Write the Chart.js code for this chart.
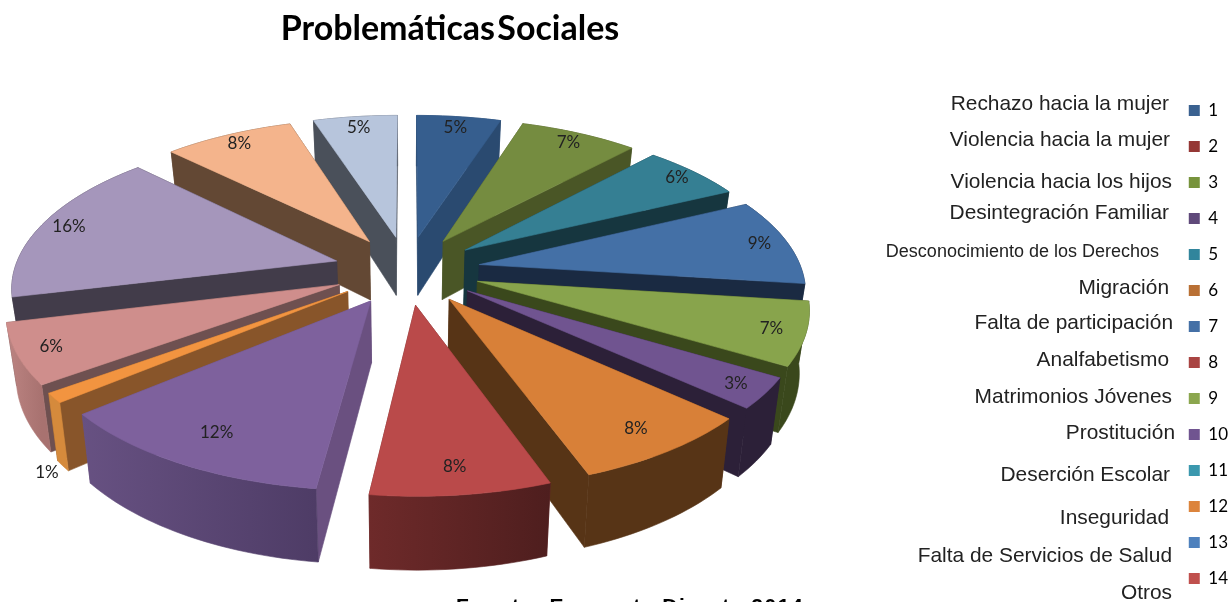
<!DOCTYPE html>
<html lang="es">
<head>
<meta charset="utf-8">
<title>Problemáticas Sociales</title>
<script src="https://cdn.jsdelivr.net/npm/chart.js@4/dist/chart.umd.min.js"></script>
<style>
  html, body { margin: 0; padding: 0; background: #fff; overflow: hidden; }
  canvas { display: block; }
</style>
</head>
<body>
<canvas id="pie" width="1231" height="606"></canvas>
<script>
// Values estimated from the slices, clockwise from 12 o'clock; the printed labels are these rounded
const sliceValues = [5, 7, 6, 9.2, 6.6, 3.2, 7.8, 7.5, 12.1, 1, 6.3, 16.3, 7.7, 5];

// Legend as it stands in the picture
const legendNumbers = ['1', '2', '3', '4', '5', '6', '7', '8', '9', '10', '11', '12', '13', '14'];
const legendColors = ['#3A6190', '#953735', '#77933C', '#5F497A', '#31859C', '#B97034', '#4470A6',
                      '#A94442', '#8BA64E', '#705490', '#3B98AE', '#DC843C', '#4E81BD', '#C0504D'];
const problemNames = ['Rechazo hacia la mujer', 'Violencia hacia la mujer', 'Violencia hacia los hijos',
                      'Desintegración Familiar', 'Desconocimiento de los Derechos', 'Migración',
                      'Falta de participación', 'Analfabetismo', 'Matrimonios Jóvenes', 'Prostitución',
                      'Deserción Escolar', 'Inseguridad', 'Falta de Servicios de Salud', 'Otros'];

// The names were pasted by hand over the chart, so each has its own spot
const nameRight = [1169, 1170, 1172, 1169, 1159, 1169, 1173, 1169, 1172, 1175, 1170, 1169, 1172, 1172];
const nameY = [104, 140, 182, 213, 252, 288, 323, 360, 397, 433, 475, 518, 556, 593];

// Slice faces
const topColors = ['#365E8E', '#758C40', '#357F93', '#4470A6', '#88A44C', '#705490', '#D88038',
                   '#BA4A4A', '#7E619D', '#F29440', '#CF8E8C', '#A596BB', '#F4B48C', '#B7C5DC'];
const cutColors = ['#2A4A70', '#4A5626', '#16363F', '#1A2A42', '#3A481C', '#2C2038', '#573416',
                   '#6E2A2A', '#6A5080', '#88552A', '#6E5050', '#423C4A', '#634834', '#4A505A'];
const rimLeft = ['#2A4A70', '#4A5626', '#16363F', '#1A2A42', '#3A481C', '#2C2038', '#573416',
                 '#6E2A2A', '#675182', '#D58A3C', '#BC8482', '#423C4A', '#634834', '#4A505A'];
const rimRight = ['#2A4A70', '#4A5626', '#16363F', '#1A2A42', '#3A481C', '#2C2038', '#573416',
                  '#4E1E1E', '#4E3C66', '#D58A3C', '#A87270', '#423C4A', '#634834', '#4A505A'];

// Where each percentage sits along its slice, 1 = on the rim
const labelReach = [0.90, 0.91, 0.92, 0.91, 0.90, 0.91, 0.87, 0.87, 0.83, 1.05, 0.9, 0.91, 0.91, 0.90];

// Look of the tilted pie
const view = { cx: 407, cy: 270, width: 396, height: 184, perspective: 0.188, depth: 60, floorShrink: 0.975 };

function project(u, v, down) {
    const k = 1 / (1 - view.perspective * v);
    return {
        x: view.cx + view.width * u * k * (down ? view.floorShrink : 1),
        y: view.cy + view.height * v * k + (down ? view.depth * k : 0)
    };
}

// Corner and rim points of one slice, taken from the chart's own arc element
function sliceGeometry(arc) {
    const push = arc.options.offset / 4;
    const total = arc.outerRadius + push;
    const mid = (arc.startAngle + arc.endAngle) / 2;
    const ax = Math.cos(mid) * push / total;
    const ay = Math.sin(mid) * push / total;
    const r = arc.outerRadius / total;
    const rim = [];
    const steps = Math.max(4, Math.ceil((arc.endAngle - arc.startAngle) * 40));
    for (let i = 0; i <= steps; i++) {
        const t = arc.startAngle + (arc.endAngle - arc.startAngle) * i / steps;
        rim.push({ u: ax + Math.cos(t) * r, v: ay + Math.sin(t) * r });
    }
    return { ax, ay, r, mid, rim };
}

function fillPoly(ctx, pts, fill) {
    ctx.beginPath();
    pts.forEach((p, i) => (i ? ctx.lineTo(p.x, p.y) : ctx.moveTo(p.x, p.y)));
    ctx.closePath();
    ctx.fillStyle = fill;
    ctx.strokeStyle = fill;
    ctx.lineWidth = 0.6;
    ctx.fill();
    ctx.stroke();
}

function drawSlice(ctx, arc, index) {
    const g = sliceGeometry(arc);
    const first = g.rim[0];
    const last = g.rim[g.rim.length - 1];
    // cut faces, the one further back first
    [first, last].sort((a, b) => a.v - b.v).forEach(p => {
        fillPoly(ctx, [project(g.ax, g.ay), project(p.u, p.v),
                       project(p.u, p.v, true), project(g.ax, g.ay, true)], cutColors[index]);
    });
    // outer wall
    const upper = g.rim.map(p => project(p.u, p.v));
    const lower = g.rim.map(p => project(p.u, p.v, true)).reverse();
    const xs = upper.map(p => p.x);
    const shade = ctx.createLinearGradient(Math.min(...xs), 0, Math.max(...xs), 0);
    shade.addColorStop(0, rimLeft[index]);
    shade.addColorStop(1, rimRight[index]);
    fillPoly(ctx, upper.concat(lower), shade);
    // top face
    fillPoly(ctx, [project(g.ax, g.ay)].concat(upper), topColors[index]);
}

const tiltedPie = {
    id: 'tiltedPie',
    beforeDatasetDraw(chart) {
        const ctx = chart.ctx;
        const arcs = chart.getDatasetMeta(0).data;
        const order = arcs.map((arc, i) => i)
            .sort((a, b) => Math.sin((arcs[a].startAngle + arcs[a].endAngle) / 2) -
                            Math.sin((arcs[b].startAngle + arcs[b].endAngle) / 2));
        ctx.save();
        order.forEach(i => drawSlice(ctx, arcs[i], i));
        ctx.restore();
        return false;
    },
    afterDraw(chart) {
        const ctx = chart.ctx;
        ctx.save();
        // percentages
        ctx.fillStyle = '#222';
        ctx.font = '17px Lato';
        ctx.textAlign = 'center';
        ctx.textBaseline = 'middle';
        chart.getDatasetMeta(0).data.forEach((arc, i) => {
            const g = sliceGeometry(arc);
            const u = g.ax + Math.cos(g.mid) * g.r * labelReach[i];
            const v = g.ay + Math.sin(g.mid) * g.r * labelReach[i];
            const p = project(u, v, sliceValues[i] === 1);
            ctx.fillText(Math.round(sliceValues[i]) + '%', p.x, p.y);
        });

        ctx.fillStyle = '#000';
        ctx.font = 'bold 34px Lato';
        ctx.wordSpacing = '-6px';
        ctx.fillText('Problemáticas Sociales', 450, 29);
        ctx.wordSpacing = '0px';

        ctx.fillStyle = '#222';
        ctx.textAlign = 'right';
        problemNames.forEach((name, i) => {
            ctx.font = i === 4 ? '18px "Liberation Sans"' : '20.9px "Liberation Sans"';
            ctx.fillText(name, nameRight[i], nameY[i]);
        });

        ctx.fillStyle = '#000';
        ctx.textAlign = 'center';
        ctx.textBaseline = 'alphabetic';
        ctx.letterSpacing = '1.5px';
        ctx.font = 'bold 21px "Liberation Sans"';
        ctx.fillText('Fuente: Encuesta Directa 2014', 630, 613);
        ctx.restore();
    }
};

new Chart(document.getElementById('pie'), {
    type: 'pie',
    data: {
        labels: legendNumbers,
        datasets: [{
            data: sliceValues,
            backgroundColor: topColors,
            borderWidth: 0,
            offset: 190
        }]
    },
    plugins: [tiltedPie],
    options: {
        responsive: false,
        animation: false,
        layout: { padding: { right: -7 } },
        plugins: {
            tooltip: { enabled: false },
            legend: {
                position: 'right',
                align: 'end',
                labels: {
                    boxWidth: 11,
                    boxHeight: 11,
                    padding: 19,
                    color: '#333',
                    font: { family: 'Lato', size: 17 },
                    generateLabels: () => legendNumbers.map((text, i) => ({
                        text,
                        fillStyle: legendColors[i],
                        strokeStyle: legendColors[i],
                        lineWidth: 0,
                        index: i
                    }))
                }
            }
        }
    }
});
</script>
</body>
</html>
